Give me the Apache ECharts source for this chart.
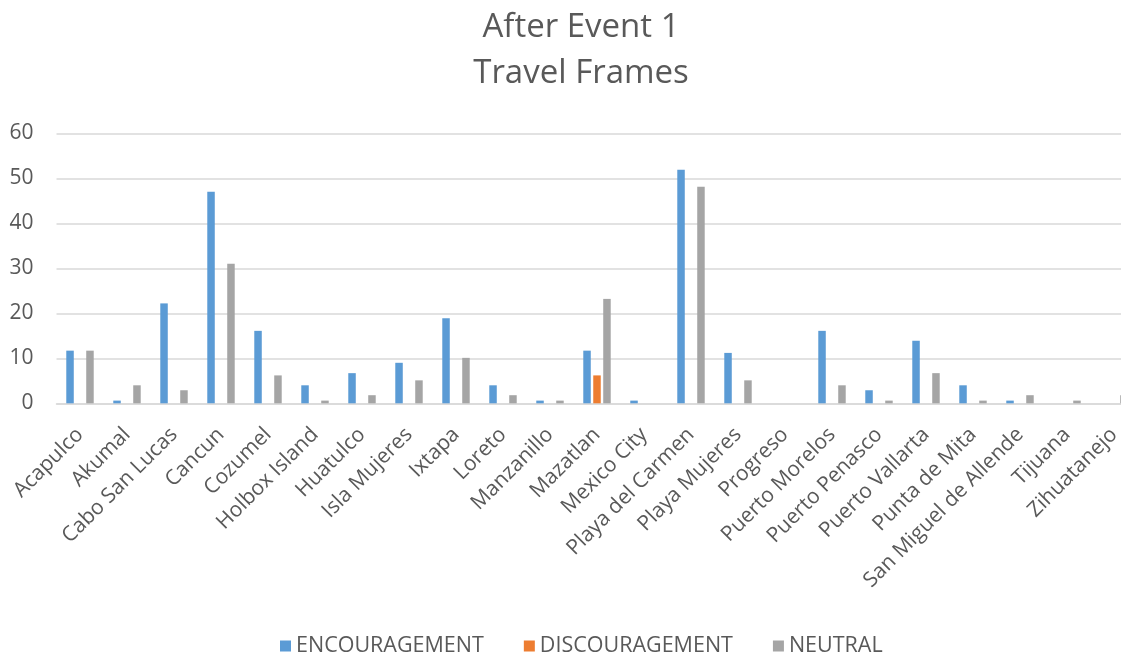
<!DOCTYPE html>
<html>
<head>
<meta charset="utf-8">
<script src="https://cdn.jsdelivr.net/npm/echarts@6/dist/echarts.min.js"></script>
<style>
html,body{margin:0;padding:0;background:#fff;overflow:hidden;}
#chart{width:1121px;height:656px;}
</style>
</head>
<body>
<div id="chart"></div>
<script>
const categories = ["Acapulco","Akumal","Cabo San Lucas","Cancun","Cozumel","Holbox Island","Huatulco","Isla Mujeres","Ixtapa","Loreto","Manzanillo","Mazatlan","Mexico City","Playa del Carmen","Playa Mujeres","Progreso","Puerto Morelos","Puerto Penasco","Puerto Vallarta","Punta de Mita","San Miguel de Allende","Tijuana","Zihuatanejo"];
const encouragement = [11.7,0.6,22.2,47,16.1,4.0,6.7,9.0,18.9,4.0,0.6,11.7,0.6,51.9,11.2,0,16.1,2.9,13.9,4.0,0.6,0,0];
const discouragement = [0,0,0,0,0,0,0,0,0,0,0,6.2,0,0,0,0,0,0,0,0,0,0,0];
const neutral = [11.7,4.0,2.9,31,6.2,0.6,1.8,5.1,10.1,1.8,0.6,23.2,0,48.1,5.1,0,4.0,0.6,6.7,0.6,1.8,0.6,1.8];
const yTicks = {min:0, max:60, interval:10};

const FONT = "'Open Sans', sans-serif";
const chart = echarts.init(document.getElementById('chart'), null, {renderer:'canvas'});
const barStyle = {barWidth:7.5, barGap:'33%'};
chart.setOption({
  animation:false,
  title:{
    text:'After Event 1\nTravel Frames',
    left:576, top:0, textAlign:'center',
    textStyle:{fontFamily:FONT, fontSize:33, fontWeight:'normal', color:'#595959', lineHeight:45.6}
  },
  legend:{
    top:630, left:275,
    icon:'rect', itemWidth:11, itemHeight:11, itemGap:40,
    textStyle:{fontFamily:FONT, fontSize:21.5, color:'#595959'},
    data:['ENCOURAGEMENT','DISCOURAGEMENT','NEUTRAL']
  },
  grid:{left:56.5, width:1081, top:133.3, height:270, containLabel:false, outerBoundsMode:'none'},
  xAxis:{
    type:'category', data:categories,
    axisLine:{lineStyle:{color:'#d9d9d9', width:1.5}},
    axisTick:{show:false},
    axisLabel:{rotate:45, interval:0, margin:28, fontFamily:FONT, fontSize:21, color:'#595959'}
  },
  yAxis:{
    type:'value', min:yTicks.min, max:yTicks.max, interval:yTicks.interval,
    axisLine:{show:false}, axisTick:{show:false},
    splitLine:{lineStyle:{color:'#d9d9d9', width:1.5}},
    axisLabel:{margin:23, fontFamily:FONT, fontSize:21, color:'#595959'}
  },
  series:[
    Object.assign({name:'ENCOURAGEMENT', type:'bar', data:encouragement, itemStyle:{color:'#5B9BD5'}}, barStyle),
    Object.assign({name:'DISCOURAGEMENT', type:'bar', data:discouragement, itemStyle:{color:'#ED7D31'}}, barStyle),
    Object.assign({name:'NEUTRAL', type:'bar', data:neutral, itemStyle:{color:'#A5A5A5'}}, barStyle)
  ]
});
</script>
</body>
</html>
